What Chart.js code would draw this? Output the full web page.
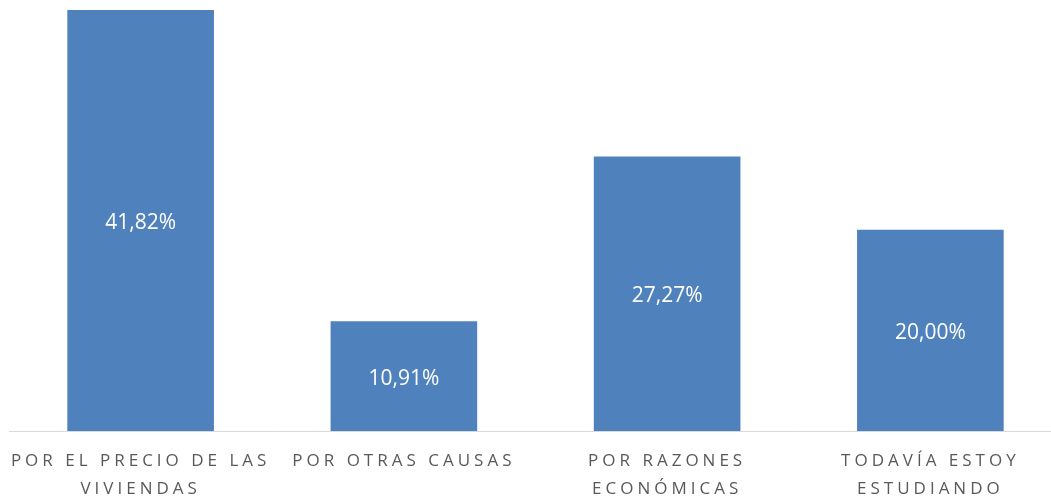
<!DOCTYPE html>
<html>
<head>
<meta charset="utf-8">
<script src="https://cdn.jsdelivr.net/npm/chart.js@4"></script>
<style>
  html, body { margin: 0; padding: 0; background: #fff; overflow: hidden; }
  #wrap { width: 1062px; height: 500px; }
</style>
</head>
<body>
<div id="wrap"><canvas id="chart"></canvas></div>
<script>
const categories = [
    ['POR EL PRECIO DE LAS', 'VIVIENDAS'],
    ['POR OTRAS CAUSAS'],
    ['POR RAZONES', 'ECONÓMICAS'],
    ['TODAVÍA ESTOY', 'ESTUDIANDO']
];
const percentages = [41.82, 10.91, 27.27, 20.00];

// value labels inside the bars, plus letter spacing for the axis labels
const labelPlugin = {
    id: 'labels',
    beforeDraw(chart) {
        chart.ctx.letterSpacing = '4px';
    },
    beforeDatasetsDraw(chart) {
        chart.ctx.letterSpacing = '0px';
    },
    afterDatasetsDraw(chart) {
        const ctx = chart.ctx;
        const meta = chart.getDatasetMeta(0);
        ctx.save();
        ctx.letterSpacing = '0px';
        ctx.fillStyle = '#ffffff';
        ctx.font = '21px "Open Sans"';
        ctx.textAlign = 'center';
        ctx.textBaseline = 'middle';
        meta.data.forEach((bar, i) => {
            const txt = percentages[i].toFixed(2).replace('.', ',') + '%';
            ctx.fillText(txt, bar.x, (bar.y + bar.base) / 2 + 2.5);
        });
        ctx.restore();
    }
};

new Chart(document.getElementById('chart'), {
    type: 'bar',
    data: {
        labels: categories,
        datasets: [{
            data: percentages,
            backgroundColor: '#4F81BD',
            barPercentage: 0.557,
            categoryPercentage: 1
        }]
    },
    options: {
        responsive: true,
        maintainAspectRatio: false,
        animation: false,
        layout: { padding: { left: 9, top: 10, right: 0, bottom: 0 } },
        plugins: { legend: { display: false }, tooltip: { enabled: false } },
        scales: {
            y: { display: false, min: 0, max: 41.82 },
            x: {
                grid: { display: false },
                border: { display: true, color: '#d9d9d9', width: 1 },
                ticks: {
                    color: '#595959',
                    font: { family: '"Open Sans"', size: 17, lineHeight: 1.6 },
                    padding: 9,
                    maxRotation: 0,
                    autoSkip: false
                },
                afterFit(scale) { scale.height = 69; }
            }
        }
    },
    plugins: [labelPlugin]
});
</script>
</body>
</html>
